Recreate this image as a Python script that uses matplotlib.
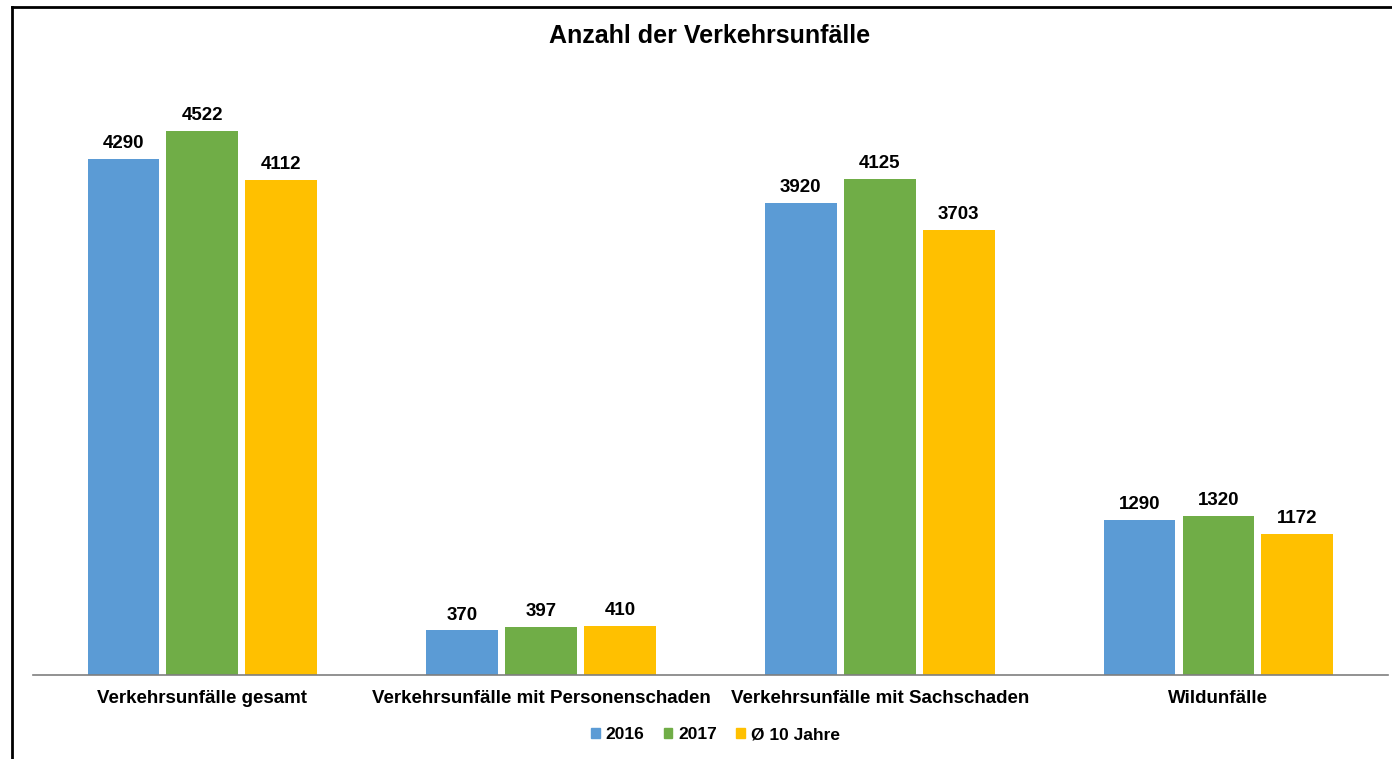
import numpy as np
from matplotlib import pyplot as plt
from matplotlib.lines import Line2D
from matplotlib.patches import Patch

plt.rcParams["font.family"] = ["Liberation Sans", "DejaVu Sans"]

categories = [
    "Verkehrsunfälle gesamt",
    "Verkehrsunfälle mit Personenschaden",
    "Verkehrsunfälle mit Sachschaden",
    "Wildunfälle",
]
series_names = ["2016", "2017", "Ø 10 Jahre"]
values_2016 = [4290, 370, 3920, 1290]
values_2017 = [4522, 397, 4125, 1320]
values_avg = [4112, 410, 3703, 1172]
colors = ["#5B9BD5", "#70AD47", "#FFC000"]

fig = plt.figure(figsize=(13.92, 7.59), dpi=100)
ax = fig.add_axes([0.0237, 0.1107, 0.9733, 0.7925])

x = np.arange(len(categories))
width = 0.212
step = 0.233
for i, (vals, name) in enumerate(zip([values_2016, values_2017, values_avg], series_names)):
    bars = ax.bar(x + (i - 1) * step, vals, width, color=colors[i], label=name)
    for b, v in zip(bars, vals):
        ax.annotate(str(v), (b.get_x() + b.get_width() / 2, v), xytext=(0, 5),
                    textcoords="offset points", ha="center", va="bottom",
                    fontsize=13.5, fontweight="bold")

ax.set_xlim(-0.5, len(categories) - 0.5)
ax.set_ylim(0, 5000)
ax.set_xticks(x)
ax.set_xticklabels(categories, fontsize=13.5, fontweight="bold")
ax.tick_params(axis="x", length=0, pad=11)
ax.set_yticks([])
for side in ["top", "right", "left"]:
    ax.spines[side].set_visible(False)
ax.spines["bottom"].set_color("#7f7f7f")
ax.spines["bottom"].set_linewidth(1.2)

fig.text(0.51, 0.953, "Anzahl der Verkehrsunfälle", ha="center", va="center",
         fontsize=18, fontweight="bold")

handles = [Patch(color=c) for c in colors]
leg = fig.legend(handles, series_names, loc="center", bbox_to_anchor=(0.514, 0.032),
                 ncol=3, frameon=False, handlelength=0.5, handleheight=0.5,
                 handletextpad=0.35, columnspacing=1.1,
                 prop={"size": 12.5, "weight": "bold"})

# frame lines on left and top like the screenshot
fig.add_artist(Line2D([0.0086, 0.0086], [0, 0.991], color="black", lw=2,
                      transform=fig.transFigure))
fig.add_artist(Line2D([0.0086, 1.0], [0.991, 0.991], color="black", lw=2,
                      transform=fig.transFigure))

plt.savefig("out.png", dpi=100)
plt.close()
